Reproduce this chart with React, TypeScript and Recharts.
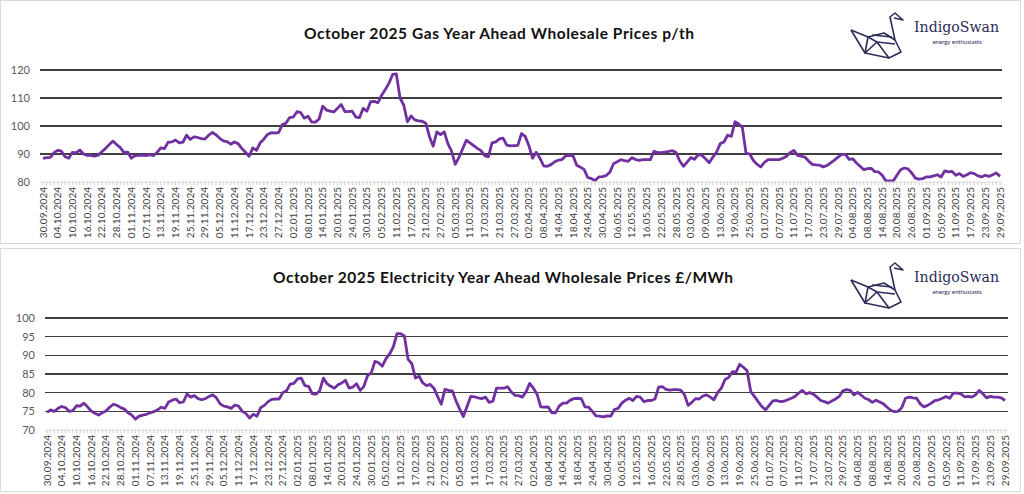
import React from "react";
import { LineChart, Line, XAxis, YAxis, ReferenceLine } from "recharts";

// Gas year-ahead price, p/th (one value per weekday, 30.09.2024 .. 29.09.2025)
const gasPrices: number[] = [
  88.4, 88.7, 88.8, 90.5, 91.3, 91.0, 89.0, 88.5, 90.6, 90.4,
  91.4, 90.0, 89.5, 89.5, 89.2, 89.6, 90.8, 92.0, 93.4, 94.6,
  93.4, 92.3, 90.5, 90.7, 88.5, 89.4, 89.5, 89.6, 89.4, 89.8,
  89.4, 90.6, 92.2, 91.9, 94.2, 94.3, 95.0, 94.0, 94.2, 96.7,
  95.2, 96.1, 95.9, 95.5, 95.3, 96.7, 97.7, 96.9, 95.6, 94.7,
  94.4, 93.5, 94.3, 93.7, 92.0, 90.6, 89.2, 92.2, 91.3, 94.0,
  95.3, 97.0, 97.6, 97.5, 97.6, 100.5, 101.0, 103.0, 103.2, 105.1,
  104.8, 102.8, 103.5, 101.4, 101.4, 102.5, 107.1, 105.7, 105.3, 105.0,
  106.3, 107.7, 105.1, 105.1, 105.3, 103.2, 103.0, 106.3, 105.3, 108.7,
  108.8, 108.3, 111.0, 113.0, 115.3, 118.4, 118.6, 110.0, 107.5, 101.5,
  103.6, 102.2, 101.8, 101.7, 101.0, 96.2, 92.8, 97.9, 96.9, 97.9,
  93.7, 91.0, 86.3, 88.8, 91.8, 94.9, 94.0, 93.0, 92.0, 91.2,
  89.4, 89.0, 94.0, 94.3, 95.4, 95.7, 93.2, 92.9, 93.0, 93.1,
  97.3, 96.3, 93.0, 88.5, 90.6, 88.5, 85.8, 85.6, 86.2, 87.2,
  87.8, 88.0, 89.3, 89.5, 89.4, 86.0, 85.3, 84.5, 81.6, 81.2,
  80.5, 81.8, 81.9, 82.3, 83.5, 86.5, 87.2, 88.0, 87.6, 87.4,
  88.7, 88.0, 87.7, 88.0, 88.0, 88.0, 91.0, 90.5, 90.5, 90.7,
  90.9, 91.2, 90.5, 87.5, 85.6, 87.1, 88.7, 88.1, 89.8, 89.5,
  88.3, 86.9, 88.9, 90.7, 93.7, 94.3, 96.7, 96.3, 101.5, 100.7,
  99.5, 90.3, 90.0, 87.7, 86.3, 85.4, 87.0, 88.0, 88.0, 88.0,
  88.0, 88.5, 89.2, 90.5, 91.3, 89.5, 89.2, 88.9, 87.5, 86.3,
  86.1, 86.0, 85.4, 85.9, 86.8, 87.8, 88.9, 89.9, 89.9, 88.1,
  88.3, 86.8, 85.6, 84.4, 84.8, 84.9, 83.7, 83.6, 82.4, 80.4,
  80.4, 80.4, 82.4, 84.4, 85.0, 84.7, 83.2, 81.4, 81.0, 81.2,
  81.8, 81.8, 82.2, 82.6, 81.8, 84.0, 83.6, 83.8, 82.4, 83.0,
  82.0, 82.6, 83.3, 83.0, 82.2, 81.8, 82.4, 82.0, 82.6, 83.2,
  82.0,
];

// Electricity year-ahead price, £/MWh
const elecPrices: number[] = [
  74.7, 75.4, 75.0, 75.8, 76.3, 76.0, 75.0, 75.2, 76.5, 76.4,
  77.2, 76.2, 75.1, 74.5, 74.0, 74.6, 75.1, 76.1, 76.9, 76.6,
  76.0, 75.6, 74.6, 74.0, 72.9, 73.7, 74.0, 74.2, 74.6, 74.9,
  75.4, 76.1, 75.8, 77.5, 78.0, 78.3, 77.3, 77.5, 79.6, 78.8,
  79.2, 78.4, 78.1, 78.4, 79.0, 79.4, 78.6, 77.0, 76.4, 76.2,
  75.8, 76.7, 76.4, 75.0, 74.4, 73.2, 74.2, 73.7, 76.0, 76.6,
  77.6, 78.2, 78.3, 78.3, 80.0, 80.5, 82.3, 82.5, 83.7, 83.9,
  81.9, 81.7, 79.7, 79.6, 80.5, 83.9, 82.4, 81.7, 81.2, 82.1,
  82.6, 83.3, 81.2, 81.5, 82.4, 80.6, 81.7, 84.6, 85.3, 88.4,
  88.0, 87.1, 89.1, 90.4, 92.3, 95.8, 95.8, 95.2, 88.9, 87.8,
  83.9, 84.4, 82.6, 81.9, 82.2, 81.2, 79.0, 76.9, 80.9, 80.6,
  80.5, 77.8, 75.6, 73.6, 76.3, 79.0, 78.9, 78.6, 78.4, 78.8,
  77.4, 77.7, 81.2, 81.2, 81.2, 81.6, 80.2, 79.3, 79.2, 78.8,
  80.2, 82.5, 81.2, 79.6, 76.2, 76.1, 76.2, 74.6, 74.6, 76.4,
  77.2, 77.2, 78.0, 78.4, 78.5, 78.4, 76.2, 76.1, 75.0, 73.8,
  73.7, 73.5, 73.8, 73.7, 75.5, 75.8, 77.2, 78.0, 78.5, 77.9,
  79.0, 78.8, 77.6, 77.9, 77.9, 78.3, 81.5, 81.6, 80.9, 80.7,
  80.8, 80.8, 80.7, 79.5, 76.6, 77.4, 78.4, 78.3, 79.1, 79.4,
  78.8, 78.1, 80.0, 81.2, 83.5, 84.1, 85.6, 85.5, 87.6, 86.8,
  85.9, 80.3, 79.0, 77.6, 76.3, 75.4, 76.6, 77.8, 77.9, 77.6,
  77.7, 78.1, 78.5, 79.0, 79.9, 80.6, 79.7, 80.0, 79.6, 78.8,
  77.9, 77.6, 77.2, 77.8, 78.3, 79.0, 80.5, 80.8, 80.6, 79.4,
  80.1, 79.3, 78.5, 78.1, 77.4, 78.0, 77.5, 77.0, 76.1, 75.3,
  74.9, 75.0, 76.0, 78.5, 78.8, 78.6, 78.5, 77.0, 76.2, 76.6,
  77.2, 77.9, 78.1, 78.5, 79.0, 78.5, 79.9, 79.9, 79.7, 78.9,
  79.0, 78.8, 79.4, 80.6, 79.7, 78.6, 79.0, 78.8, 78.8, 78.6,
  77.9,
];

const gasTicks = [80, 90, 100, 110, 120];
const elecTicks = [70, 75, 80, 85, 90, 95, 100];

const gasTitle = "October 2025 Gas Year Ahead Wholesale Prices p/th";
const elecTitle = "October 2025 Electricity Year Ahead Wholesale Prices £/MWh";

// category axis: every weekday from 30.09.2024 to 29.09.2025
const buildDates = (): string[] => {
  const out: string[] = [];
  let t = Date.UTC(2024, 8, 30);
  const end = Date.UTC(2025, 8, 29);
  while (t <= end) {
    const d = new Date(t);
    const wd = d.getUTCDay();
    if (wd !== 0 && wd !== 6) {
      const dd = String(d.getUTCDate()).padStart(2, "0");
      const mm = String(d.getUTCMonth() + 1).padStart(2, "0");
      out.push(`${dd}.${mm}.${d.getUTCFullYear()}`);
    }
    t += 86400000;
  }
  return out;
};
const dates = buildDates();

const gasData = dates.map((date, i) => ({ date, value: gasPrices[i] }));
const elecData = dates.map((date, i) => ({ date, value: elecPrices[i] }));

const FONT = "Lato, 'Liberation Sans', Arial, sans-serif";
const PURPLE = "#7030A0";
const INK = "#2b2d58";

const DateTick = (props: any) => {
  const { x, y, payload, index } = props;
  if (index % 4 !== 0) return <g />;
  return (
    <text
      x={x}
      y={y}
      transform={`rotate(-90 ${x} ${y})`}
      textAnchor="end"
      dy="0.35em"
      fontSize={10}
      fill="#404040"
      fontFamily={FONT}
    >
      {payload.value}
    </text>
  );
};

const Logo = ({ x, y }: { x: number; y: number }) => (
  <g>
    <g transform={`translate(${x},${y})`} fill="none" stroke={INK} strokeWidth={1.6} strokeLinejoin="round">
      <path d="M1,17 L15,40 L39,45 L51,39 L45,27 L40,4 L45,0 L53,7 L44,5" />
      <path d="M1,17 L18,24 L34,20 L45,27" />
      <path d="M18,24 L15,40 L27,29 L39,45" />
      <path d="M18,24 L27,29 L45,31" />
      <path d="M22,22 L42,24" />
    </g>
    <text x={x + 64} y={y + 19} fontSize={15} fill={INK} fontFamily="'DejaVu Serif', serif" fontWeight={400} textLength={85} lengthAdjust="spacingAndGlyphs">
      IndigoSwan
    </text>
    <text x={x + 107} y={y + 31} fontSize={6} fill={INK} fontFamily={FONT} textAnchor="middle">
      energy enthusiasts
    </text>
  </g>
);

const Panel = ({
  top,
  data,
  ticks,
  title,
  titleX,
  titleY,
  titleLen,
  yWidth,
  rightMargin,
  padL,
  padR,
  logoY,
}: any) => {
  const gridVals: number[] = ticks.slice(1);
  return (
    <div style={{ position: "absolute", left: 0, top, width: 1021, height: 244 }}>
      <LineChart width={1020} height={243} data={data} margin={{ top: 70, right: rightMargin, bottom: 6, left: 0 }}>
        <XAxis
          dataKey="date"
          interval={0}
          height={55}
          tick={<DateTick />}
          tickSize={3}
          tickMargin={2}
          tickLine={{ stroke: "#cfcfcf" }}
          axisLine={{ stroke: "#dcdcdc" }}
          padding={{ left: padL, right: padR }}
        />
        <YAxis
          width={yWidth}
          domain={[ticks[0], ticks[ticks.length - 1]]}
          ticks={ticks}
          tickLine={false}
          axisLine={false}
          tickSize={0}
          tickMargin={10}
          tick={{ fontSize: 11, fill: "#595959", fontFamily: FONT }}
        />
        {gridVals.map((v) => (
          <ReferenceLine key={`g${v}`} y={v} stroke="#3f3f3f" strokeWidth={1.5} shapeRendering="crispEdges" />
        ))}
        <Line
          type="linear"
          dataKey="value"
          stroke={PURPLE}
          strokeWidth={2.8}
          dot={false}
          strokeLinejoin="round"
          isAnimationActive={false}
        />
      </LineChart>
      <svg width={1021} height={244} style={{ position: "absolute", left: 0, top: 0, pointerEvents: "none" }}>
        <text
          x={titleX}
          y={titleY}
          textAnchor="middle"
          dominantBaseline="central"
          fontSize={15.5}
          fontWeight={700}
          fill="#111"
          fontFamily={FONT}
          textLength={titleLen}
          lengthAdjust="spacing"
        >
          {title}
        </text>
        <Logo x={850} y={logoY} />
        <rect x={0.5} y={0.5} width={1020} height={243} fill="none" stroke="#d9d9d9" strokeWidth={1} />
      </svg>
    </div>
  );
};

export default function App() {
  return (
    <div style={{ position: "absolute", left: 0, top: 0, width: 1024, height: 494, background: "#fff" }}>
      <Panel
        top={0}
        data={gasData}
        ticks={gasTicks}
        title={gasTitle}
        titleX={499}
        titleY={33}
        titleLen={390}
        yWidth={40}
        rightMargin={18}
        padL={3}
        padR={2}
        logoY={13}
      />
      <Panel
        top={248}
        data={elecData}
        ticks={elecTicks}
        title={elecTitle}
        titleX={503}
        titleY={29}
        titleLen={460}
        yWidth={45}
        rightMargin={12}
        padL={2}
        padR={3}
        logoY={15}
      />
    </div>
  );
}
